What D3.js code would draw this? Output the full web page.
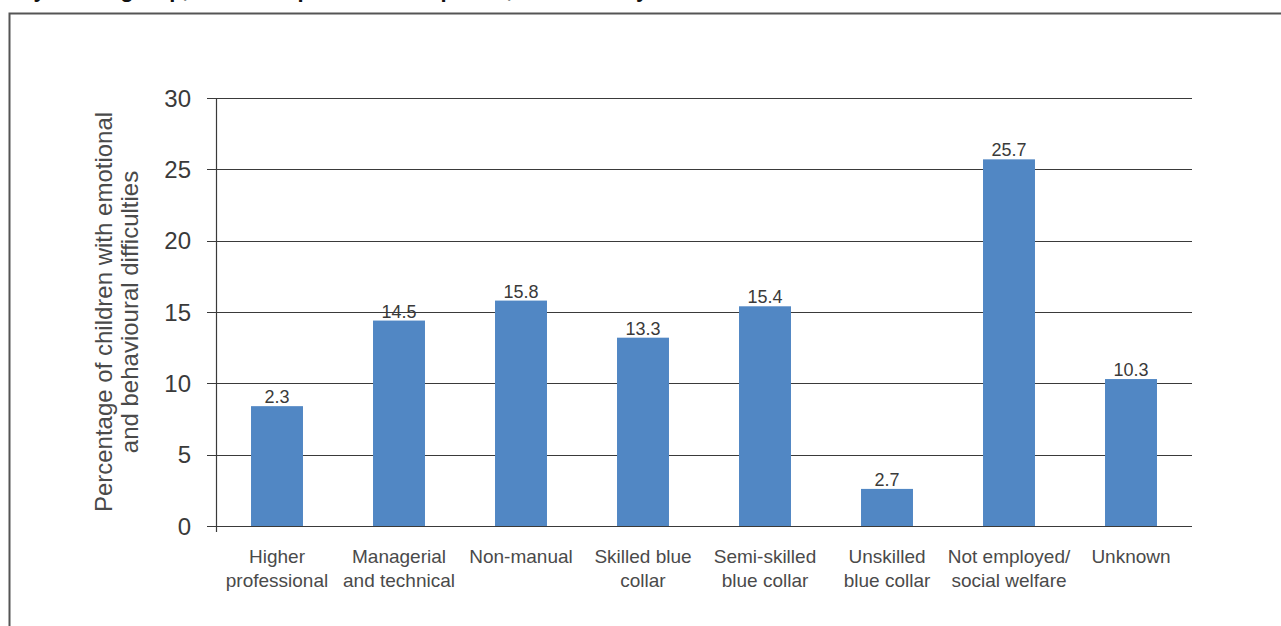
<!DOCTYPE html>
<html lang="en">
<head>
<meta charset="UTF-8">
<title>Emotional and behavioural difficulties by social group</title>
<script src="https://d3js.org/d3.v7.min.js"></script>
<style>
  body { margin: 0; background: #fff; }
  svg { display: block; font-family: "Liberation Sans", Arial, sans-serif; }
  .grid line { stroke: #3a3a3a; stroke-width: 1.2; }
  .tick-label { fill: #3a3a3a; font-size: 24px; }
  .cat-label { fill: #4a4a4a; font-size: 19px; }
  .val-label { fill: #3a3a3a; font-size: 18px; }
  .ytitle { fill: #4a4a4a; font-size: 24px; }
</style>
</head>
<body>
<svg width="1281" height="626"></svg>
<script>
  // categories (two-line labels) and values
  const categories = [
    "Higher professional", "Managerial and technical", "Non-manual", "Skilled blue collar",
    "Semi-skilled blue collar", "Unskilled blue collar", "Not employed/ social welfare", "Unknown"
  ];
  const catLines = [
    ["Higher", "professional"], ["Managerial", "and technical"], ["Non-manual"], ["Skilled blue", "collar"],
    ["Semi-skilled", "blue collar"], ["Unskilled", "blue collar"], ["Not employed/", "social welfare"], ["Unknown"]
  ];
  const values = [8.4, 14.4, 15.8, 13.2, 15.4, 2.6, 25.7, 10.3];
  const valueLabels = ["2.3", "14.5", "15.8", "13.3", "15.4", "2.7", "25.7", "10.3"];
  const yTicks = [0, 5, 10, 15, 20, 25, 30];

  const svg = d3.select("svg");
  const margin = { top: 98, right: 89, bottom: 100, left: 216 };
  const W = 1281, H = 626;

  // title above the frame, only its descenders reach into the picture
  svg.append("text")
    .attr("x", 20).attr("y", -3)
    .style("font-size", "22px").style("font-weight", "bold").style("fill", "#111")
    .text("by social group, based on parental occupation, of the family");

  svg.append("path")
    .attr("d", `M9.5,${H + 2} V13.5 H${W + 2}`)
    .attr("fill", "none").attr("stroke", "#555").attr("stroke-width", 2);

  const x = d3.scaleBand()
    .domain(categories)
    .range([margin.left, W - margin.right])
    .paddingInner(0.574)
    .paddingOuter(0.287);

  const y = d3.scaleLinear()
    .domain([0, 30])
    .range([H - margin.bottom, margin.top]);

  // gridlines with left tick stubs
  const grid = svg.append("g").attr("class", "grid");
  grid.selectAll("line")
    .data(yTicks)
    .join("line")
    .attr("x1", margin.left - 9)
    .attr("x2", W - margin.right)
    .attr("y1", d => Math.round(y(d)) + 0.5)
    .attr("y2", d => Math.round(y(d)) + 0.5);

  // y axis line
  svg.append("line")
    .attr("x1", margin.left + 0.5).attr("x2", margin.left + 0.5)
    .attr("y1", y(30)).attr("y2", y(0) + 6)
    .attr("stroke", "#3a3a3a").attr("stroke-width", 1.2);

  svg.selectAll(".tick-label")
    .data(yTicks)
    .join("text")
    .attr("class", "tick-label")
    .attr("x", margin.left - 25)
    .attr("y", d => y(d) + 8.5)
    .attr("text-anchor", "end")
    .text(d => d);

  // bars
  svg.selectAll(".bar")
    .data(values)
    .join("rect")
    .attr("class", "bar")
    .attr("x", (d, i) => x(categories[i]))
    .attr("width", x.bandwidth())
    .attr("y", d => y(d))
    .attr("height", d => y(0) - y(d))
    .attr("fill", "#5187c4");

  // value labels
  svg.selectAll(".val-label")
    .data(values)
    .join("text")
    .attr("class", "val-label")
    .attr("x", (d, i) => x(categories[i]) + x.bandwidth() / 2)
    .attr("y", d => y(d) - 3)
    .attr("text-anchor", "middle")
    .text((d, i) => valueLabels[i]);

  // category labels
  const cats = svg.selectAll(".cat-label")
    .data(categories)
    .join("text")
    .attr("class", "cat-label")
    .attr("text-anchor", "middle")
    .attr("x", d => x(d) + x.bandwidth() / 2)
    .attr("y", y(0) + 37);
  cats.each(function (d, i) {
    const cx = x(d) + x.bandwidth() / 2;
    d3.select(this).selectAll("tspan")
      .data(catLines[i])
      .join("tspan")
      .attr("x", cx)
      .attr("dy", (t, j) => j === 0 ? 0 : 24)
      .text(t => t);
  });

  // y axis title
  const yt = svg.append("text")
    .attr("class", "ytitle")
    .attr("text-anchor", "middle")
    .attr("transform", `translate(112,${(y(0) + y(30)) / 2}) rotate(-90)`);
  yt.append("tspan").attr("x", 0).attr("y", 0).text("Percentage of children with emotional");
  yt.append("tspan").attr("x", 0).attr("y", 26).text("and behavioural difficulties");
</script>
</body>
</html>
